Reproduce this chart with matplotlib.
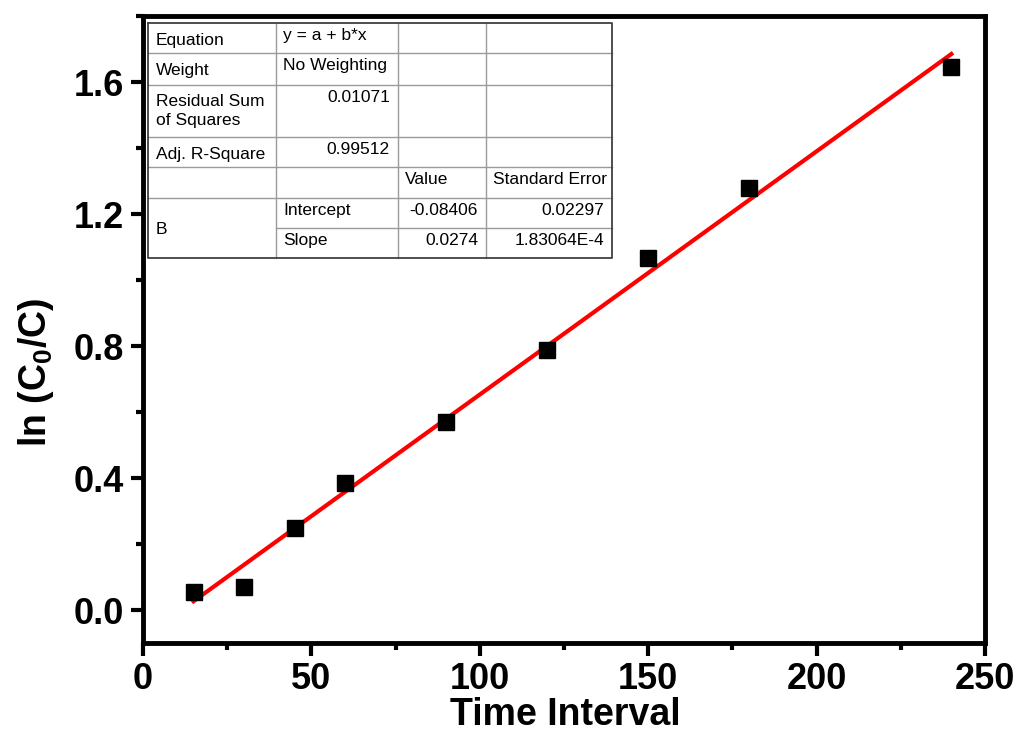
import matplotlib
matplotlib.use("Agg")
import matplotlib.pyplot as plt
from matplotlib.lines import Line2D
from matplotlib.ticker import MultipleLocator
import numpy as np

# ---- data ----
time_interval = [15, 30, 45, 60, 90, 120, 150, 180, 240]
ln_c0_c = [0.055, 0.070, 0.248, 0.385, 0.570, 0.788, 1.067, 1.279, 1.645]
fit_intercept = -0.08406
fit_slope = 0.00737
fit_range = [15, 240]

x_ticks = [0, 50, 100, 150, 200, 250]
y_ticks = [0.0, 0.4, 0.8, 1.2, 1.6]

table_rows = [
    ["Equation", "y = a + b*x", "", ""],
    ["Weight", "No Weighting", "", ""],
    ["Residual Sum\nof Squares", "0.01071", "", ""],
    ["Adj. R-Square", "0.99512", "", ""],
    ["", "", "Value", "Standard Error"],
    ["B", "Intercept", "-0.08406", "0.02297"],
    ["", "Slope", "0.0274", "1.83064E-4"],
]

plt.rcParams['font.family'] = ['Liberation Sans', 'DejaVu Sans']
plt.rcParams['mathtext.fontset'] = 'custom'
plt.rcParams['mathtext.rm'] = 'Liberation Sans:bold'
plt.rcParams['mathtext.it'] = 'Liberation Sans:bold'
plt.rcParams['mathtext.bf'] = 'Liberation Sans:bold'

W, H = 1020, 731
fig = plt.figure(figsize=(W / 100, H / 100), dpi=100)
ax = fig.add_axes([143 / W, 1 - 643 / H, (985 - 143) / W, (643 - 16) / H])

ax.plot(time_interval, ln_c0_c, linestyle='none', marker='s', markersize=12,
        color='black', zorder=3)
fx = np.array(fit_range, dtype=float)
ax.plot(fx, fit_intercept + fit_slope * fx, color='#ff0000', linewidth=3, zorder=2)

ax.set_xlim(0, 250)
ax.set_ylim(-0.1, 1.8)
ax.set_xticks(x_ticks)
ax.set_yticks(y_ticks)
ax.set_xticklabels([str(v) for v in x_ticks])
ax.set_yticklabels([f"{v:.1f}" for v in y_ticks])
ax.xaxis.set_minor_locator(MultipleLocator(25))
ax.yaxis.set_minor_locator(MultipleLocator(0.2))
for s in ax.spines.values():
    s.set_linewidth(3.5)
ax.tick_params(which='major', direction='out', length=9, width=3,
               labelsize=26, pad=5)
ax.tick_params(which='minor', direction='out', length=5, width=3)
for lab in ax.get_xticklabels() + ax.get_yticklabels():
    lab.set_fontweight('bold')

fig.text(565 / W, 1 - 725 / H, "Time Interval", fontsize=27, fontweight='bold',
         ha='center', va='baseline')
fig.text(36 / W, 1 - 372 / H, r"ln (C$_\mathrm{0}$/C)", fontsize=27,
         fontweight='bold', rotation=90, ha='center', va='center')

# ---- fit results table (figure pixel coordinates) ----
def fx_(x):
    return x / W

def fy_(y):
    return 1 - y / H

cols = [148, 276, 398, 486, 612]
rows = [23, 53, 85, 137, 167, 198, 228, 258]
inner = '#9a9a9a'
outer = '#404040'
for y in rows[1:-1]:
    x0 = cols[1] if y == 228 else cols[0]
    fig.add_artist(Line2D([fx_(x0), fx_(cols[-1])], [fy_(y), fy_(y)],
                          color=inner, linewidth=1.0))
for x in cols[1:-1]:
    fig.add_artist(Line2D([fx_(x), fx_(x)], [fy_(rows[0]), fy_(rows[-1])],
                          color=inner, linewidth=1.0))
bx = [cols[0], cols[-1], cols[-1], cols[0], cols[0]]
by = [rows[0], rows[0], rows[-1], rows[-1], rows[0]]
fig.add_artist(Line2D([fx_(v) for v in bx], [fy_(v) for v in by],
                      color=outer, linewidth=1.3))

tfs = 12.5
numeric = lambda s: len(s) > 0 and (s[0].isdigit() or s[0] == '-')
for r, row in enumerate(table_rows):
    top = rows[r]
    for c, txt in enumerate(row):
        if not txt:
            continue
        if c == 0:
            if txt == "B":
                bases = [234]
            elif "\n" in txt:
                bases = [106.5, 125]
            else:
                bases = [top + 22]
            for line, base in zip(txt.split("\n"), bases):
                fig.text(fx_(156), fy_(base), line, fontsize=tfs, ha='left',
                         va='baseline')
        else:
            base = top + 17
            if numeric(txt):
                fig.text(fx_(cols[c + 1] - 8), fy_(base), txt, fontsize=tfs,
                         ha='right', va='baseline')
            else:
                fig.text(fx_(cols[c] + 7), fy_(base), txt, fontsize=tfs,
                         ha='left', va='baseline')

fig.savefig("out.png", dpi=100)
